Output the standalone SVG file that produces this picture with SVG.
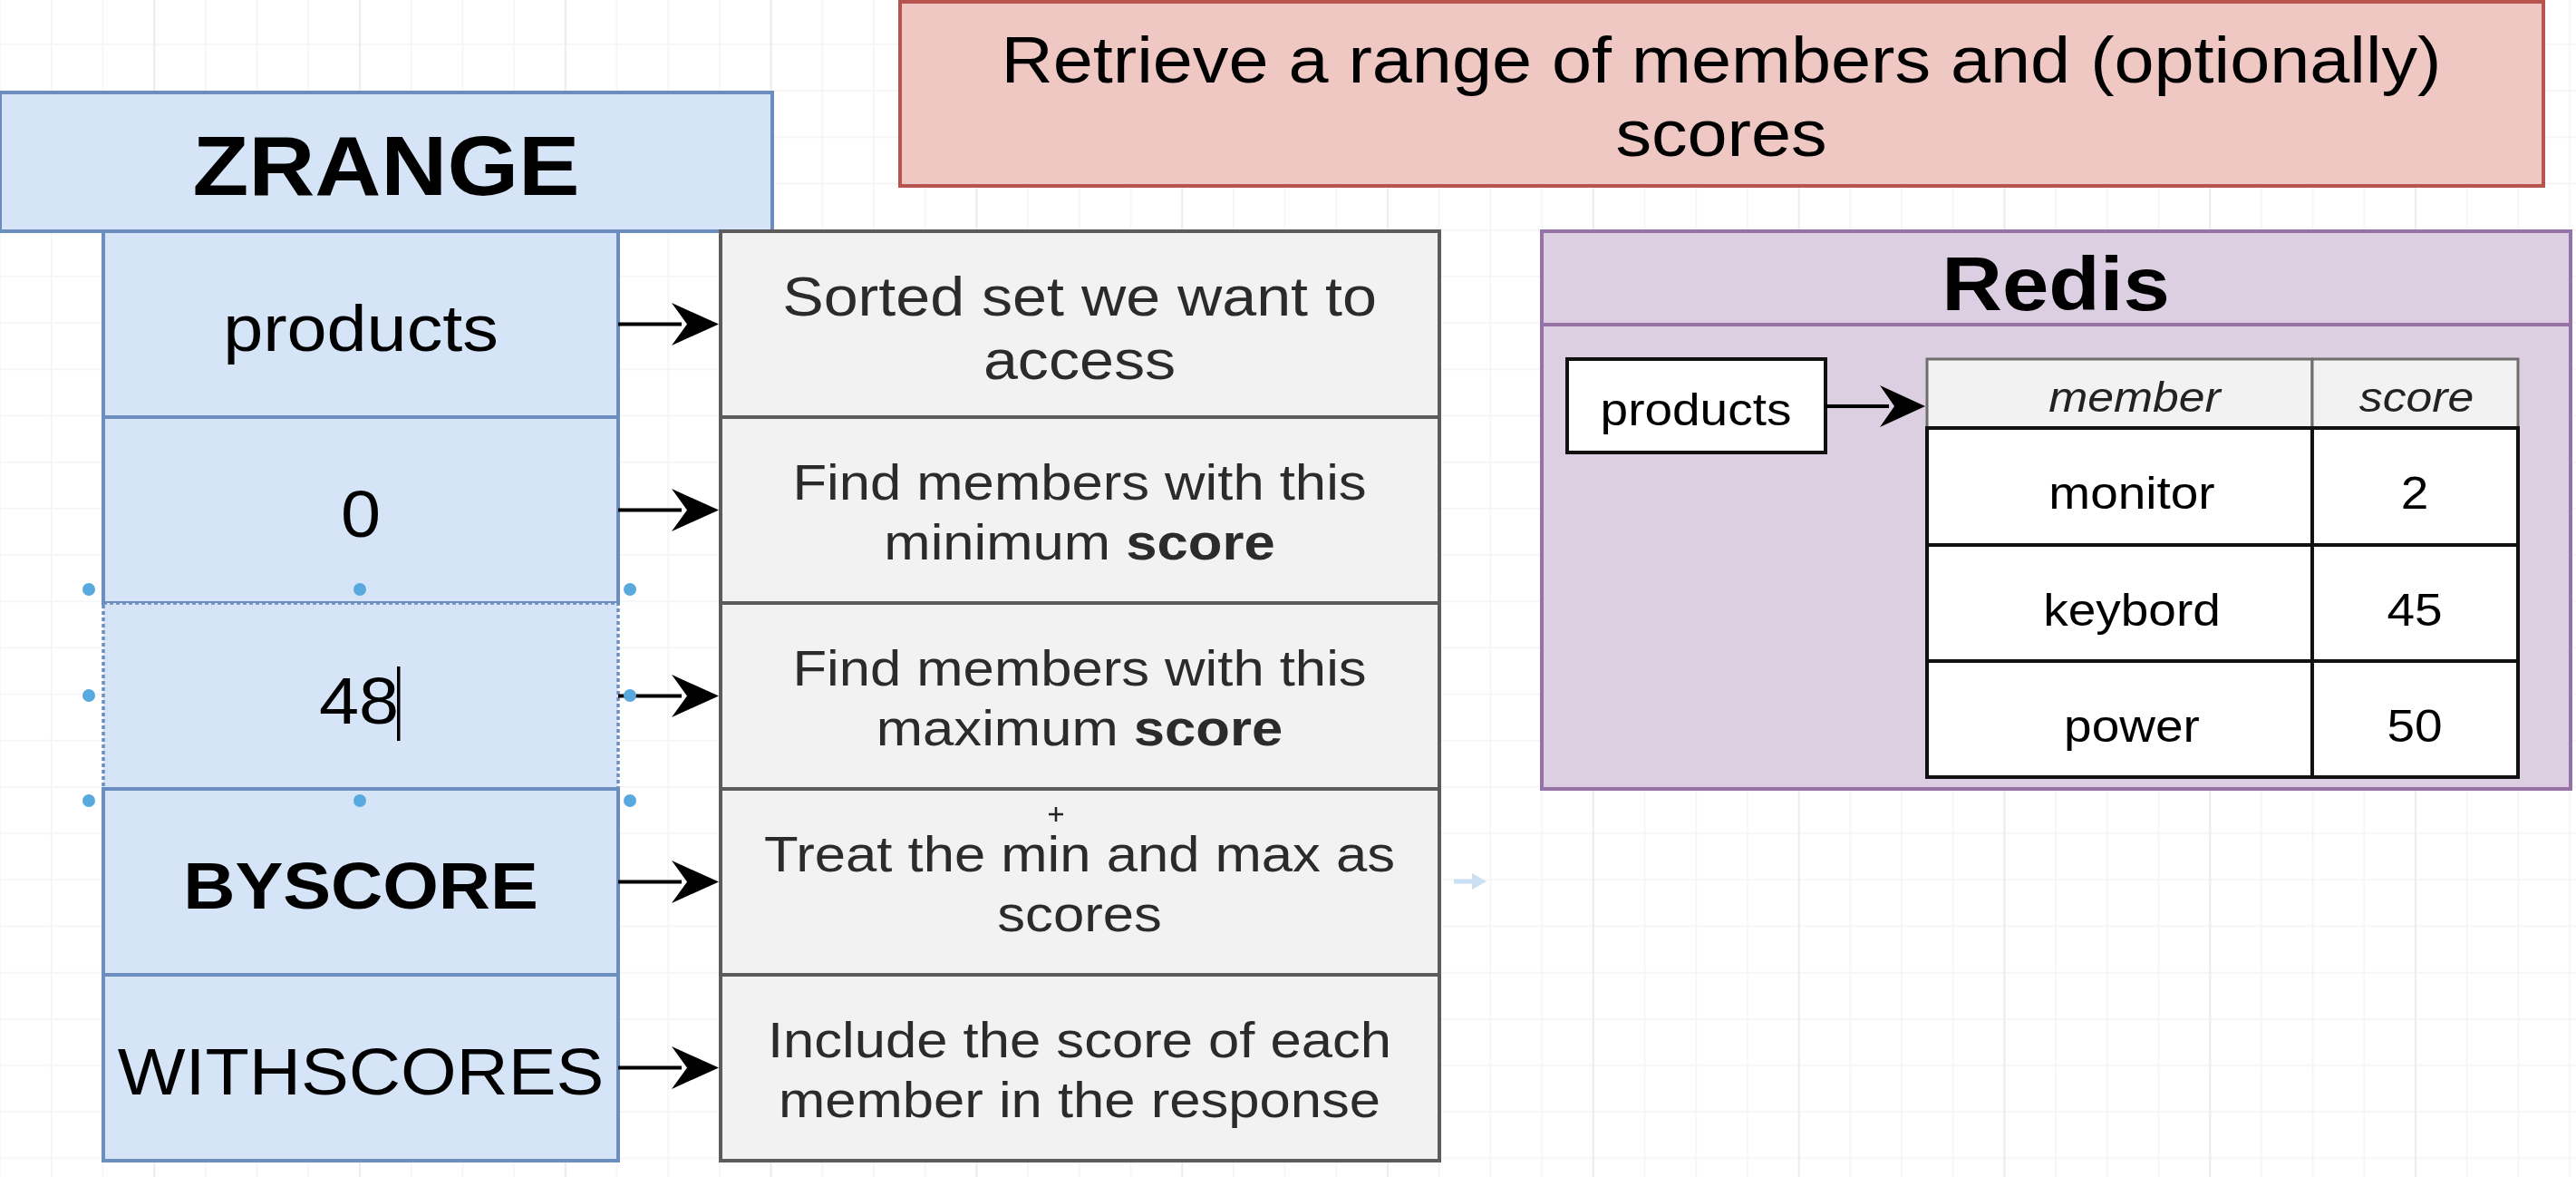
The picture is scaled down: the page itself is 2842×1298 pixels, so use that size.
<svg xmlns="http://www.w3.org/2000/svg" width="2842" height="1298" viewBox="0 0 2842 1298">
  <defs>
    <style>
      text { font-family: "Liberation Sans", Arial, Helvetica, sans-serif; }
      .blue { fill: #d6e4f7; stroke: #6c8ebf; stroke-width: 4; }
      .desc { fill: #f2f2f2; stroke: #5c5c5c; stroke-width: 4; }
      .t72 { font-size: 72px; fill: #000; text-anchor: middle; }
      .d62 { font-size: 62px; fill: #2b2b2b; text-anchor: middle; }
      .d56 { font-size: 56px; fill: #2b2b2b; text-anchor: middle; }
      .cell { fill: #ffffff; stroke: #111111; stroke-width: 4; }
      .hcell { fill: #f2f2f2; stroke: #6e6e6e; stroke-width: 3; }
      .t50 { font-size: 50px; fill: #000; text-anchor: middle; }
      .h47 { font-size: 47px; fill: #222; text-anchor: middle; font-style: italic; }
      .conn line { stroke: #000; stroke-width: 4; }
      .conn path { fill: #000; }
      .handle { fill: #58a9dd; }
    </style>
    <pattern id="minor" patternUnits="userSpaceOnUse" x="-0.75" y="-3" width="56.7" height="51.18">
      <rect x="0" y="0" width="1.5" height="51.18" fill="#f4f4f4"/>
      <rect x="0" y="0" width="56.7" height="1.5" fill="#f4f4f4"/>
    </pattern>
    <pattern id="major" patternUnits="userSpaceOnUse" x="169.3" y="0" width="226.8" height="1298">
      <rect x="0" y="0" width="1.8" height="1298" fill="#ececec"/>
    </pattern>
  </defs>

  <rect x="0" y="0" width="2842" height="1298" fill="#ffffff"/>
  <rect x="0" y="0" width="2842" height="1298" fill="url(#minor)"/>
  <rect x="0" y="0" width="2842" height="1298" fill="url(#major)"/>

  <!-- Title -->
  <g id="title">
    <rect x="993" y="2" width="1813" height="203" fill="#efc8c4" stroke="#b85450" stroke-width="4"/>
    <g transform="translate(1899 0) scale(1.1 1)">
      <text class="t72" x="0" y="91">Retrieve a range of members and (optionally)</text>
      <text class="t72" x="0" y="172">scores</text>
    </g>
  </g>

  <!-- ZRANGE command column -->
  <g id="zrange">
    <rect class="blue" x="0" y="102" width="852" height="153"/>
    <g transform="translate(426 0) scale(1.1 1)">
      <text x="0" y="215" font-size="92" font-weight="bold" text-anchor="middle">ZRANGE</text>
    </g>
  </g>
  <g id="arg-products">
    <rect class="blue" x="114" y="255" width="568" height="205"/>
    <g transform="translate(398 0) scale(1.1 1)"><text class="t72" x="0" y="387">products</text></g>
  </g>
  <g id="arg-min">
    <rect class="blue" x="114" y="460" width="568" height="205"/>
    <g transform="translate(398 0) scale(1.1 1)"><text class="t72" x="0" y="592">0</text></g>
  </g>
  <g id="arg-max">
    <rect x="114" y="665" width="568" height="205" fill="#d6e4f7" stroke="#6c8ebf" stroke-width="3.5" stroke-dasharray="4 3"/>
    <g transform="translate(396 0) scale(1.1 1)"><text class="t72" x="0" y="798">48</text></g>
    <rect x="438" y="735" width="3.5" height="82" fill="#000"/>
  </g>
  <g id="arg-byscore">
    <rect class="blue" x="114" y="870" width="568" height="205"/>
    <g transform="translate(398 0) scale(1.1 1)"><text class="t72" x="0" y="1002" font-weight="bold">BYSCORE</text></g>
  </g>
  <g id="arg-withscores">
    <rect class="blue" x="114" y="1075" width="568" height="205"/>
    <g transform="translate(398 0) scale(1.1 1)"><text class="t72" x="0" y="1207">WITHSCORES</text></g>
  </g>

  <!-- Description column -->
  <g id="desc-products">
    <rect class="desc" x="795" y="255" width="793" height="205"/>
    <g transform="translate(1191 0) scale(1.1 1)">
      <text class="d62" x="0" y="348">Sorted set we want to</text>
      <text class="d62" x="0" y="418">access</text>
    </g>
  </g>
  <g id="desc-min">
    <rect class="desc" x="795" y="460" width="793" height="205"/>
    <g transform="translate(1191 0) scale(1.1 1)">
      <text class="d56" x="0" y="551">Find members with this</text>
      <text class="d56" x="0" y="617">minimum <tspan font-weight="bold">score</tspan></text>
    </g>
  </g>
  <g id="desc-max">
    <rect class="desc" x="795" y="665" width="793" height="205"/>
    <g transform="translate(1191 0) scale(1.1 1)">
      <text class="d56" x="0" y="756">Find members with this</text>
      <text class="d56" x="0" y="822">maximum <tspan font-weight="bold">score</tspan></text>
    </g>
  </g>
  <g id="desc-byscore">
    <rect class="desc" x="795" y="870" width="793" height="205"/>
    <g transform="translate(1191 0) scale(1.1 1)">
      <text class="d56" x="0" y="961">Treat the min and max as</text>
      <text class="d56" x="0" y="1027">scores</text>
    </g>
  </g>
  <g id="desc-withscores">
    <rect class="desc" x="795" y="1075" width="793" height="205"/>
    <g transform="translate(1191 0) scale(1.1 1)">
      <text class="d56" x="0" y="1166">Include the score of each</text>
      <text class="d56" x="0" y="1232">member in the response</text>
    </g>
  </g>

  <!-- Redis panel -->
  <g id="redis">
    <rect x="1701" y="255" width="1135" height="615" fill="#dccfe2" stroke="#9673a6" stroke-width="4"/>
    <line x1="1701" y1="358" x2="2836" y2="358" stroke="#9673a6" stroke-width="4"/>
    <g transform="translate(2268 0) scale(1.1 1)">
      <text x="0" y="342" font-size="84" font-weight="bold" text-anchor="middle">Redis</text>
    </g>
  </g>
  <g id="redis-key">
    <rect x="1729" y="396" width="285" height="103" fill="#ffffff" stroke="#111" stroke-width="4"/>
    <g transform="translate(1871 0) scale(1.1 1)"><text class="t50" x="0" y="469" font-size="51">products</text></g>
  </g>
  <g id="redis-table">
    <rect class="hcell" x="2126" y="396" width="425" height="76"/>
    <rect class="hcell" x="2551" y="396" width="227" height="76"/>
    <rect class="cell" x="2126" y="472" width="425" height="129"/>
    <rect class="cell" x="2551" y="472" width="227" height="129"/>
    <rect class="cell" x="2126" y="601" width="425" height="128"/>
    <rect class="cell" x="2551" y="601" width="227" height="128"/>
    <rect class="cell" x="2126" y="729" width="425" height="128"/>
    <rect class="cell" x="2551" y="729" width="227" height="128"/>
    <g transform="translate(2355 0) scale(1.1 1)"><text class="h47" x="0" y="454">member</text></g>
    <g transform="translate(2666 0) scale(1.1 1)"><text class="h47" x="0" y="454">score</text></g>
    <g transform="translate(2352 0) scale(1.1 1)">
      <text class="t50" x="0" y="561">monitor</text>
      <text class="t50" x="0" y="690">keybord</text>
      <text class="t50" x="0" y="818">power</text>
    </g>
    <g transform="translate(2664 0) scale(1.1 1)">
      <text class="t50" x="0" y="561">2</text>
      <text class="t50" x="0" y="690">45</text>
      <text class="t50" x="0" y="818">50</text>
    </g>
  </g>

  <!-- Connectors -->
  <g id="connectors" class="conn">
    <line x1="682" y1="357.5" x2="752" y2="357.5"/>
    <path d="M793 357.5 L741 334 L758 357.5 L741 381 Z"/>
    <line x1="682" y1="562.5" x2="752" y2="562.5"/>
    <path d="M793 562.5 L741 539 L758 562.5 L741 586 Z"/>
    <line x1="682" y1="767.5" x2="752" y2="767.5"/>
    <path d="M793 767.5 L741 744 L758 767.5 L741 791 Z"/>
    <line x1="682" y1="972.5" x2="752" y2="972.5"/>
    <path d="M793 972.5 L741 949 L758 972.5 L741 996 Z"/>
    <line x1="682" y1="1177.5" x2="752" y2="1177.5"/>
    <path d="M793 1177.5 L741 1154 L758 1177.5 L741 1201 Z"/>
    <line x1="2014" y1="448" x2="2084" y2="448"/>
    <path d="M2124 448 L2074 425 L2090 448 L2074 471 Z"/>
  </g>

  <!-- Editor overlay: selection handles, hover arrow, cursor -->
  <g id="selection-handles" class="handle">
    <circle cx="98" cy="650" r="7"/>
    <circle cx="397" cy="650" r="7"/>
    <circle cx="695" cy="650" r="7"/>
    <circle cx="98" cy="767" r="7"/>
    <circle cx="695" cy="767" r="7"/>
    <circle cx="98" cy="883" r="7"/>
    <circle cx="397" cy="883" r="7"/>
    <circle cx="695" cy="883" r="7"/>
  </g>
  <g id="hover-arrow">
    <line x1="1604" y1="972" x2="1626" y2="972" stroke="#c9dff2" stroke-width="5"/>
    <path d="M1640 972 L1624 963 L1624 981 Z" fill="#c9dff2"/>
  </g>
  <path d="M1157 898 H1173 M1165 890 V906" stroke="#222" stroke-width="2.5" fill="none"/>
</svg>
